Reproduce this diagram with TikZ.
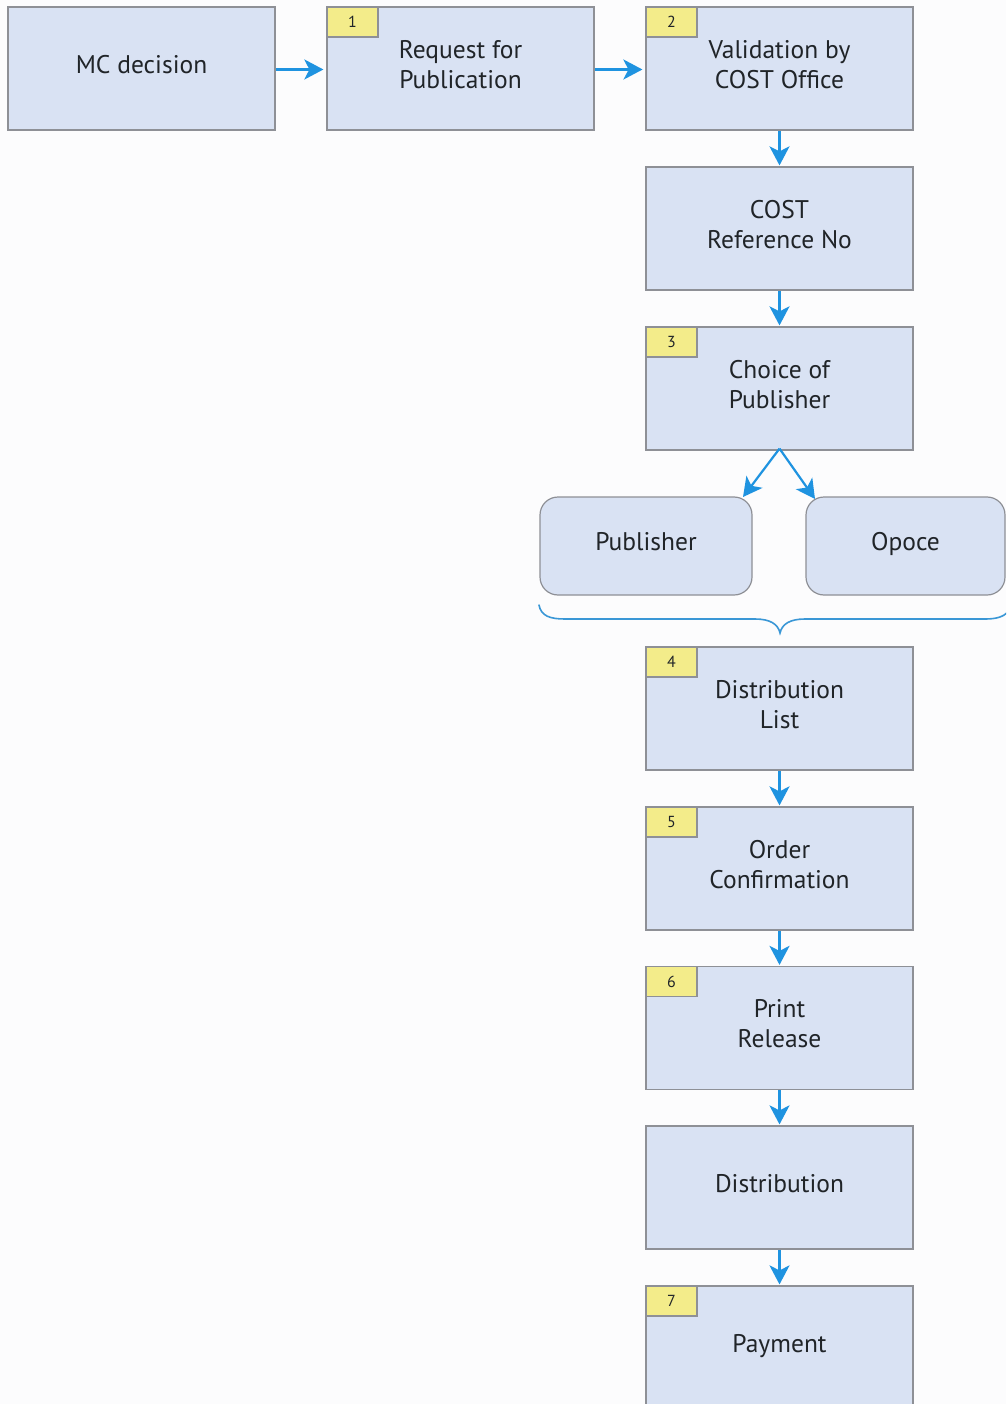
\documentclass[tikz,border=0pt]{standalone}
\usepackage{fontspec}
\setmainfont{PT Sans}
\usetikzlibrary{arrows.meta,positioning}
\definecolor{boxfill}{HTML}{D9E2F3}
\definecolor{boxline}{HTML}{8E9096}
\definecolor{tagfill}{HTML}{F3EC8A}
\definecolor{arrblue}{HTML}{1F93E0}
\definecolor{bracec}{HTML}{3A97D6}
\definecolor{txt}{HTML}{202428}
\definecolor{bg}{HTML}{FCFCFD}
\tikzset{
  procbox/.style={rectangle, draw=boxline, fill=boxfill, line width=1.2pt,
    minimum width=267pt, minimum height=123pt, align=center, text=txt,
    font=\fontsize{25.5}{30}\selectfont, inner sep=0pt, text depth=9pt},
  roundbox/.style={procbox, rounded corners=18pt, minimum height=98pt},
  tagbox/.style={rectangle, draw=boxline, fill=tagfill, line width=1.2pt,
    minimum width=51pt, minimum height=30pt, inner sep=0pt, text=txt,
    font=\fontsize{16}{18}\selectfont, anchor=north west, text depth=0pt},
  arr/.style={draw=arrblue, line width=2.2pt,
    -{Stealth[length=19pt,width=20pt,inset=5pt]}}
}
\begin{document}
\begin{tikzpicture}[x=1pt,y=-1pt]
\clip (0,0) rectangle (1006,1404);
\fill[bg] (0,0) rectangle (1006,1404);

\node[procbox] (mc) at (141.5,68.5) {MC decision};
\node[procbox] (b1) at (460.5,68.5) {Request for\\Publication};
\node[procbox] (b2) at (779.5,68.5) {Validation by\\COST Office};
\node[procbox] (ref) at (779.5,228.5) {COST\\Reference No};
\node[procbox] (b3) at (779.5,388.5) {Choice of\\Publisher};
\node[roundbox, minimum width=212pt] (pub) at (646,546) {Publisher};
\node[roundbox, minimum width=199pt] (opo) at (905.5,546) {Opoce};
\node[procbox] (b4) at (779.5,708.5) {Distribution\\List};
\node[procbox] (b5) at (779.5,868.5) {Order\\Confirmation};
\node[procbox] (b6) at (779.5,1028) {Print\\Release};
\node[procbox] (dist) at (779.5,1187.5) {Distribution};
\node[procbox] (b7) at (779.5,1347.5) {Payment};

\node[tagbox] (t1) at (b1.north west) {1};
\node[tagbox] (t2) at (b2.north west) {2};
\node[tagbox] (t3) at (b3.north west) {3};
\node[tagbox] (t4) at (b4.north west) {4};
\node[tagbox] (t5) at (b5.north west) {5};
\node[tagbox] (t6) at (b6.north west) {6};
\node[tagbox] (t7) at (b7.north west) {7};

\draw[arr, shorten >=3pt] ([yshift=-1pt]mc.east) -- ([yshift=-1pt]b1.west);
\draw[arr, shorten >=3pt] ([yshift=-1pt]b1.east) -- ([yshift=-1pt]b2.west);
\draw[arr, shorten >=1pt] (b2.south) -- (ref.north);
\draw[arr, shorten >=1pt] (ref.south) -- (b3.north);
\draw[arr, shorten >=1pt] (b4.south) -- (b5.north);
\draw[arr, shorten >=1pt] (b5.south) -- (b6.north);
\draw[arr, shorten >=1pt] (b6.south) -- (dist.north);
\draw[arr, shorten >=1pt] (dist.south) -- (b7.north);

\coordinate (split) at ([yshift=2pt]b3.south);
\coordinate (pubin) at (743,497);
\coordinate (opoin) at (815,499);
\draw[arr, line join=round] (split) -- (opoin);
\draw[arr, line join=round] (split) -- (pubin);

% brace under the two options
\draw[draw=bracec, line width=1.6pt, line cap=round]
  (539,605) .. controls (541,616) and (550,619) .. (565,619)
  -- (755,619) .. controls (770,619) and (778,624) .. (780,633)
  .. controls (782,624) and (790,619) .. (805,619)
  -- (985,619) .. controls (996,619) and (1003,617) .. (1008,612);
\end{tikzpicture}
\end{document}
